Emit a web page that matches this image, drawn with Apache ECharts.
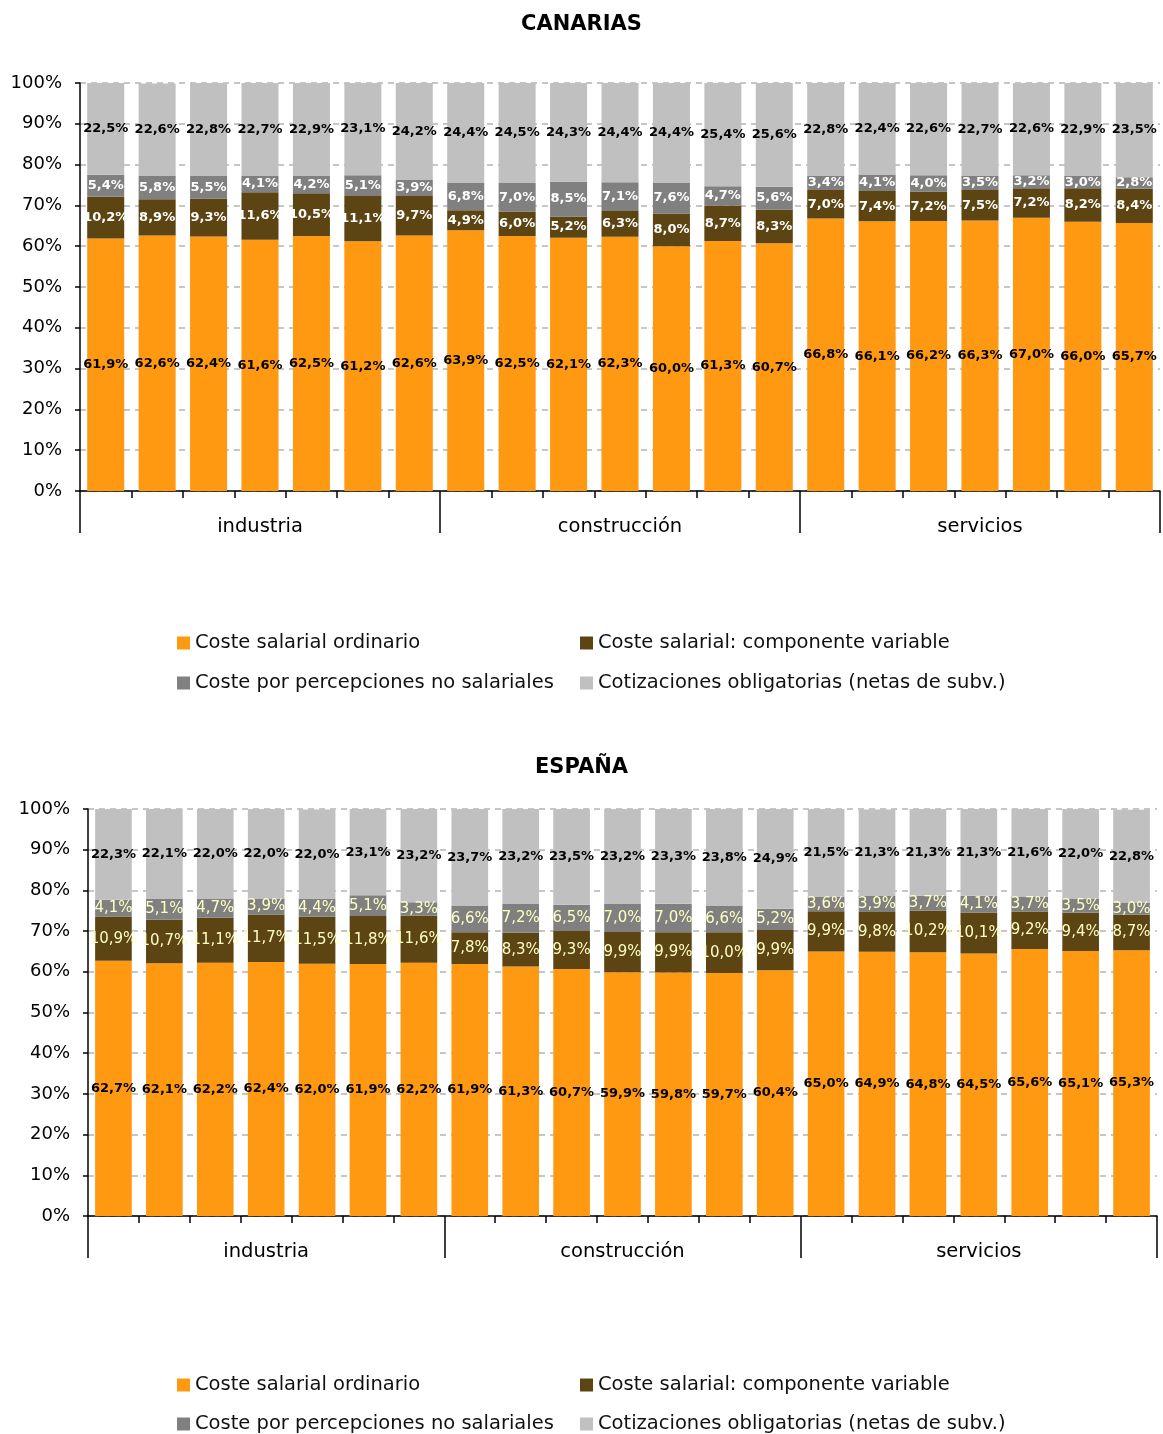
<!DOCTYPE html>
<html>
<head>
<meta charset="utf-8">
<script src="https://cdn.jsdelivr.net/npm/echarts@6/dist/echarts.min.js"></script>
<style>
html,body{margin:0;padding:0;background:#fff;}
#chart{width:1163px;height:1434px;}
</style>
</head>
<body>
<div id="chart"></div>
<script>
const groups = ['industria', 'construcción', 'servicios'];
const periods = ['1', '2', '3', '4', '5', '6', '7'];
const seriesNames = ['Coste salarial ordinario', 'Coste salarial: componente variable', 'Coste por percepciones no salariales', 'Cotizaciones obligatorias (netas de subv.)'];

// CANARIAS
const canOrdinario = [61.9, 62.6, 62.4, 61.6, 62.5, 61.2, 62.6, 63.9, 62.5, 62.1, 62.3, 60.0, 61.3, 60.7, 66.8, 66.1, 66.2, 66.3, 67.0, 66.0, 65.7];
const canVariable = [10.2, 8.9, 9.3, 11.6, 10.5, 11.1, 9.7, 4.9, 6.0, 5.2, 6.3, 8.0, 8.7, 8.3, 7.0, 7.4, 7.2, 7.5, 7.2, 8.2, 8.4];
const canNoSalarial = [5.4, 5.8, 5.5, 4.1, 4.2, 5.1, 3.9, 6.8, 7.0, 8.5, 7.1, 7.6, 4.7, 5.6, 3.4, 4.1, 4.0, 3.5, 3.2, 3.0, 2.8];
const canCotizaciones = [22.5, 22.6, 22.8, 22.7, 22.9, 23.1, 24.2, 24.4, 24.5, 24.3, 24.4, 24.4, 25.4, 25.6, 22.8, 22.4, 22.6, 22.7, 22.6, 22.9, 23.5];

// ESPAÑA
const espOrdinario = [62.7, 62.1, 62.2, 62.4, 62.0, 61.9, 62.2, 61.9, 61.3, 60.7, 59.9, 59.8, 59.7, 60.4, 65.0, 64.9, 64.8, 64.5, 65.6, 65.1, 65.3];
const espVariable = [10.9, 10.7, 11.1, 11.7, 11.5, 11.8, 11.6, 7.8, 8.3, 9.3, 9.9, 9.9, 10.0, 9.9, 9.9, 9.8, 10.2, 10.1, 9.2, 9.4, 8.7];
const espNoSalarial = [4.1, 5.1, 4.7, 3.9, 4.4, 5.1, 3.3, 6.6, 7.2, 6.5, 7.0, 7.0, 6.6, 5.2, 3.6, 3.9, 3.7, 4.1, 3.7, 3.5, 3.0];
const espCotizaciones = [22.3, 22.1, 22.0, 22.0, 22.0, 23.1, 23.2, 23.7, 23.2, 23.5, 23.2, 23.3, 23.8, 24.9, 21.5, 21.3, 21.3, 21.3, 21.6, 22.0, 22.8];

const categories = [];
groups.forEach(g => periods.forEach(p => categories.push(g + ' ' + p)));

const colors = ['#FF9912', '#5C4413', '#808080', '#C0C0C0'];
const FONT = 'DejaVu Sans';
const fmt = p => p.value.toFixed(1).replace('.', ',') + '%';

function labelStyle(color, bold, size) {
  return { show: true, position: 'inside', formatter: fmt, color: color, fontFamily: FONT,
           fontWeight: bold ? 'bold' : 'normal', fontSize: size };
}

const chart = echarts.init(document.getElementById('chart'), null, { renderer: 'canvas' });

function yAxis(gridIndex) {
  return {
    type: 'value', gridIndex: gridIndex, min: 0, max: 100, interval: 10,
    axisLine: { show: true, lineStyle: { color: '#000', width: 1.5 } },
    axisTick: { show: true, length: 5, lineStyle: { color: '#000', width: 1.5 } },
    axisLabel: { formatter: '{value}%', color: '#000', fontSize: 18, fontFamily: FONT, margin: 18 },
    splitLine: { show: true, lineStyle: { color: '#B4B4B4', type: [6, 5], width: 1.5 } }
  };
}
function xAxisBars(gridIndex) {
  return {
    type: 'category', gridIndex: gridIndex, data: categories, position: 'bottom',
    axisLine: { show: true, lineStyle: { color: '#000', width: 1.5 } },
    axisTick: { show: true, length: 7, interval: 0, lineStyle: { color: '#000', width: 1.5 } },
    axisLabel: { show: false }
  };
}
function xAxisGroups(gridIndex) {
  return {
    type: 'category', gridIndex: gridIndex, data: groups, position: 'bottom',
    axisLine: { show: false },
    axisTick: { show: true, length: 42, interval: 0, lineStyle: { color: '#000', width: 1.5 } },
    axisLabel: { color: '#000', fontSize: 19.5, fontFamily: FONT, margin: 26 }
  };
}

const legendPos = [172, 575, 172, 575];
function legends(top, rowGap) {
  return seriesNames.map((n, i) => ({
    data: [n], left: legendPos[i], top: top + (i >= 2 ? rowGap : 0), icon: 'rect',
    itemWidth: 13, itemHeight: 13, itemGap: 8, selectedMode: false,
    textStyle: { color: '#111', fontSize: 19.5, fontFamily: FONT }
  }));
}

function makeSeries(datas, stack, xi, yi, labels) {
  return datas.map((d, i) => ({
    name: seriesNames[i], type: 'bar', stack: stack, xAxisIndex: xi, yAxisIndex: yi,
    data: d, barCategoryGap: '28%', itemStyle: { color: colors[i] },
    label: labels[i], emphasis: { disabled: true }
  }));
}

const yl = '#FFFFC4';
const option = {
  animation: false,
  backgroundColor: '#fff',
  color: colors,
  title: [
    { text: 'CANARIAS', left: 'center', top: 9, textStyle: { fontSize: 21, fontWeight: 'bold', color: '#000', fontFamily: FONT } },
    { text: 'ESPAÑA', left: 'center', top: 752, textStyle: { fontSize: 21, fontWeight: 'bold', color: '#000', fontFamily: FONT } }
  ],
  grid: [
    { left: 80, right: 3, top: 83, height: 408 },
    { left: 88, right: 6, top: 809, height: 407 }
  ],
  xAxis: [xAxisBars(0), xAxisGroups(0), xAxisBars(1), xAxisGroups(1)],
  yAxis: [yAxis(0), yAxis(1)],
  legend: legends(628, 40).concat(legends(1370, 39)),
  series: [].concat(
    makeSeries([canOrdinario, canVariable, canNoSalarial, canCotizaciones], 'can', 0, 0,
      [labelStyle('#000', true, 13), labelStyle('#fff', true, 13), labelStyle('#fff', true, 13), labelStyle('#000', true, 13)]),
    makeSeries([espOrdinario, espVariable, espNoSalarial, espCotizaciones], 'esp', 2, 1,
      [labelStyle('#000', true, 13), labelStyle(yl, false, 15), labelStyle(yl, false, 15), labelStyle('#000', true, 13)])
  )
};
chart.setOption(option);
</script>
</body>
</html>
